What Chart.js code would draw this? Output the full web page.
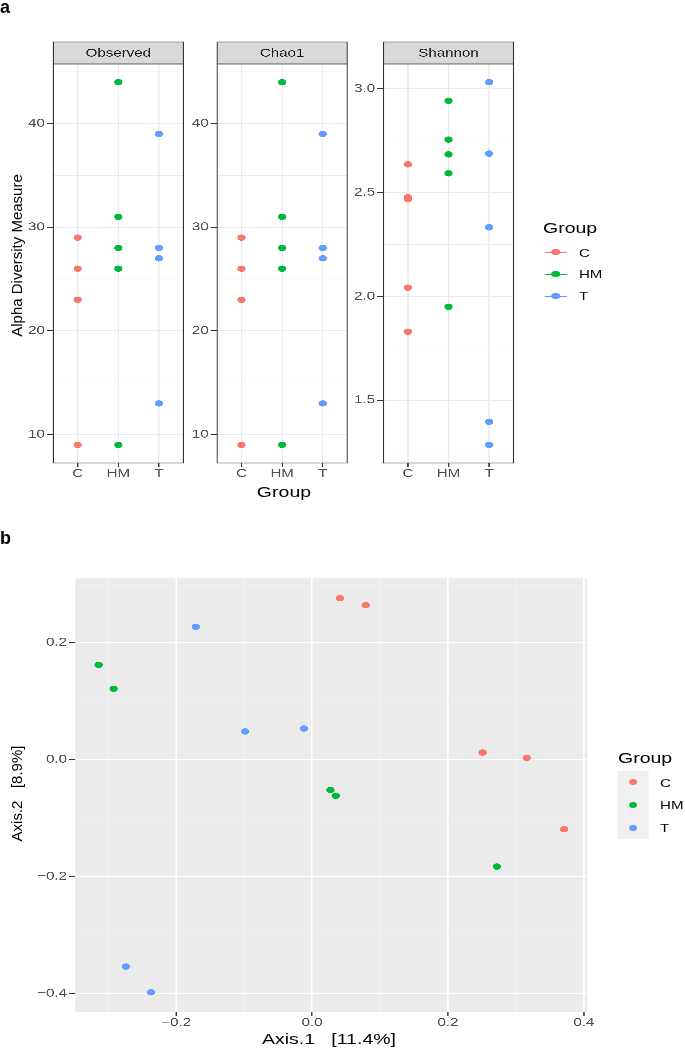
<!DOCTYPE html>
<html>
<head>
<meta charset="utf-8">
<script src="https://cdn.jsdelivr.net/npm/chart.js@4.4.1/dist/chart.umd.min.js"></script>
<style>
  html, body { margin: 0; padding: 0; background: #fff; }
  body { width: 685px; height: 1051px; position: relative; overflow: hidden;
         font-family: "Liberation Sans", Arial, Helvetica, sans-serif; }
  /* the original figure is stretched horizontally, so the whole stage is too */
  #stage { position: absolute; left: 0; top: 0; width: 527px; height: 1051px;
           transform: scaleX(1.3); transform-origin: 0 0; }
  canvas { position: absolute; }
  .t { position: absolute; white-space: pre; }
</style>
</head>
<body>
<div id="stage"></div>
<script>
// ---- data ----
const groups = ['C', 'HM', 'T'];
const groupColors = ['#F8766D', '#00BA38', '#619CFF'];

const observedC = [29, 26, 23, 9];
const observedHM = [44, 31, 28, 26, 9];
const observedT = [39, 28, 27, 13];

const chao1C = [29, 26, 23, 9];
const chao1HM = [44, 31, 28, 26, 9];
const chao1T = [39, 28, 27, 13];

const shannonC = [2.636, 2.478, 2.468, 2.042, 1.830];
const shannonHM = [2.942, 2.755, 2.684, 2.593, 1.950];
const shannonT = [3.032, 2.688, 2.333, 1.396, 1.285];

const countTicks = [10, 20, 30, 40];
const countMinor = [15, 25, 35, 45];
const shannonTicks = [1.5, 2.0, 2.5, 3.0];
const shannonMinor = [1.25, 1.75, 2.25, 2.75];

const pcoaCx = [0.041, 0.079, 0.251, 0.316, 0.371];
const pcoaCy = [0.276, 0.264, 0.012, 0.003, -0.119];
const pcoaHMx = [-0.314, -0.292, 0.027, 0.035, 0.272];
const pcoaHMy = [0.162, 0.121, -0.052, -0.062, -0.183];
const pcoaTx = [-0.171, -0.0985, -0.012, -0.274, -0.237];
const pcoaTy = [0.227, 0.048, 0.053, -0.354, -0.398];

const axis1Ticks = [-0.2, 0, 0.2, 0.4];
const axis1Minor = [-0.3, -0.1, 0.1, 0.3];
const axis2Ticks = [-0.4, -0.2, 0, 0.2];
const axis2Minor = [-0.3, -0.1, 0.1, 0.3];

// ---- layout helpers ----
const SX = 1.3;
const FONT = '"Liberation Sans", Arial, Helvetica, sans-serif';
const stage = document.getElementById('stage');
Chart.defaults.font.family = FONT;
Chart.defaults.color = '#4D4D4D';

const expand = (vals) => {
  const lo = Math.min(...vals), hi = Math.max(...vals), pad = (hi - lo) * 0.05;
  return [lo - pad, hi + pad];
};
const near = (list, v) => list.some(m => Math.abs(m - v) < 1e-9);
const minus = (s) => s.replace('-', '\u2212');

function addText(parent, str, o) {
  const d = document.createElement('div');
  d.className = 't';
  d.textContent = str;
  d.style.fontSize = o.size + 'px';
  d.style.lineHeight = o.size + 'px';
  d.style.color = o.color || '#000';
  if (o.bold) d.style.fontWeight = 'bold';
  if (o.center) {
    d.style.width = '300px';
    d.style.left = (o.x - 150) + 'px';
    d.style.textAlign = 'center';
  } else {
    d.style.left = o.x + 'px';
  }
  d.style.top = (o.y - o.size / 2) + 'px';
  if (o.rotate) d.style.transform = 'rotate(-90deg)';
  parent.appendChild(d);
}

function addBox(parent, x, y, w, h, color, round) {
  const d = document.createElement('div');
  d.style.position = 'absolute';
  d.style.left = x + 'px';
  d.style.top = y + 'px';
  d.style.width = w + 'px';
  d.style.height = h + 'px';
  d.style.background = color;
  if (round) d.style.borderRadius = '50%';
  parent.appendChild(d);
}

// build a chart whose chart area lands exactly on `area` (stage coords)
function placeChart(area, axW, axH, padT, padR, config) {
  const cv = document.createElement('canvas');
  const W = Math.ceil(axW + (area.r - area.l) + padR);
  const H = Math.ceil(padT + (area.b - area.t) + axH);
  cv.width = W;
  cv.height = H;
  cv.style.left = (area.l - axW) + 'px';
  cv.style.top = (area.t - padT) + 'px';
  stage.appendChild(cv);
  const realPadR = W - axW - (area.r - area.l);
  const realAxH = H - padT - (area.b - area.t);
  const o = config.options;
  o.responsive = false;
  o.animation = false;
  o.devicePixelRatio = 3;
  o.layout = { padding: { top: padT, right: realPadR, bottom: 0, left: 0 }, autoPadding: false };
  o.scales.x.afterFit = s => { s.height = realAxH; };
  o.scales.y.afterFit = s => { s.width = axW; };
  return new Chart(cv, config);
}

// panel border + grey strip on top (theme_bw facets)
const facetFrame = {
  id: 'facetFrame',
  afterDraw(chart, args, opts) {
    const { ctx, chartArea: a } = chart;
    const w = a.right - a.left;
    ctx.save();
    ctx.fillStyle = '#D9D9D9';
    ctx.fillRect(a.left, a.top - 22, w, 22);
    ctx.strokeStyle = '#333333';
    ctx.lineWidth = 0.8;
    ctx.strokeRect(a.left, a.top - 22, w, 22);
    ctx.strokeRect(a.left, a.top, w, a.bottom - a.top);
    ctx.fillStyle = '#1A1A1A';
    ctx.font = '11.6px ' + FONT;
    ctx.textAlign = 'center';
    ctx.textBaseline = 'middle';
    ctx.fillText(opts.title, (a.left + a.right) / 2, a.top - 10.5);
    ctx.restore();
  }
};

// grey panel background (theme_gray)
const panelBg = {
  id: 'panelBg',
  beforeDraw(chart) {
    const { ctx, chartArea: a } = chart;
    ctx.save();
    ctx.fillStyle = '#EBEBEB';
    ctx.fillRect(a.left, a.top, a.right - a.left, a.bottom - a.top);
    ctx.restore();
  }
};

const pointOpts = (gi) => ({
  backgroundColor: groupColors[gi],
  borderColor: groupColors[gi],
  pointRadius: 3.2,
  pointHoverRadius: 3.2,
  pointBorderWidth: 0
});

// ---- panel a: alpha diversity facets ----
const facets = [
  { title: 'Observed', series: [observedC, observedHM, observedT], major: countTicks, minor: countMinor, fmt: v => String(v), left: 53 },
  { title: 'Chao1', series: [chao1C, chao1HM, chao1T], major: countTicks, minor: countMinor, fmt: v => String(v), left: 217 },
  { title: 'Shannon', series: [shannonC, shannonHM, shannonT], major: shannonTicks, minor: shannonMinor, fmt: v => v.toFixed(1), left: 384 }
];

facets.forEach(f => {
  const [lo, hi] = expand(f.series.flat());
  const area = { l: f.left / SX, r: f.left / SX + 100, t: 64, b: 463 };
  placeChart(area, 28, 30, 24, 4, {
    type: 'scatter',
    data: {
      datasets: f.series.map((vals, gi) => Object.assign({
        label: groups[gi],
        data: vals.map(v => ({ x: gi + 1, y: v }))
      }, pointOpts(gi)))
    },
    options: {
      plugins: { legend: { display: false }, tooltip: { enabled: false }, facetFrame: { title: f.title } },
      scales: {
        x: {
          type: 'linear', min: 0.4, max: 3.6,
          afterBuildTicks: s => { s.ticks = [1, 2, 3].map(v => ({ value: v })); },
          ticks: { callback: v => groups[v - 1], padding: 0, font: { size: 11.6 }, maxRotation: 0, autoSkip: false },
          grid: { color: '#EBEBEB', lineWidth: 1, tickLength: 4, tickColor: '#333333', tickWidth: 1 },
          border: { display: false }
        },
        y: {
          type: 'linear', min: lo, max: hi,
          afterBuildTicks: s => {
            s.ticks = f.major.concat(f.minor).sort((a, b) => a - b)
              .filter(v => v >= lo && v <= hi).map(v => ({ value: v }));
          },
          ticks: { callback: v => near(f.major, v) ? f.fmt(v) : '', padding: 1.5, font: { size: 11.6 }, autoSkip: false },
          grid: {
            color: '#EBEBEB',
            lineWidth: c => near(f.major, c.tick.value) ? 1 : 0.5,
            tickLength: 5,
            tickColor: c => near(f.major, c.tick.value) ? '#333333' : 'rgba(0,0,0,0)',
            tickWidth: 1
          },
          border: { display: false }
        }
      }
    },
    plugins: [facetFrame]
  });
});

// ---- panel b: PCoA ----
const pcoaX = [pcoaCx, pcoaHMx, pcoaTx];
const pcoaY = [pcoaCy, pcoaHMy, pcoaTy];
const [xLo, xHi] = expand(pcoaX.flat());
const [yLo, yHi] = expand(pcoaY.flat());

placeChart({ l: 75 / SX, r: 587 / SX, t: 576, b: 1012 }, 42, 22, 6, 16, {
  type: 'scatter',
  data: {
    datasets: pcoaX.map((xs, gi) => Object.assign({
      label: groups[gi],
      data: xs.map((x, i) => ({ x: x, y: pcoaY[gi][i] }))
    }, pointOpts(gi)))
  },
  options: {
    plugins: { legend: { display: false }, tooltip: { enabled: false } },
    scales: {
      x: {
        type: 'linear', min: xLo, max: xHi,
        afterBuildTicks: s => {
          s.ticks = axis1Ticks.concat(axis1Minor).sort((a, b) => a - b).map(v => ({ value: v }));
        },
        ticks: { callback: v => near(axis1Ticks, v) ? minus(v.toFixed(1)) : '', padding: 0, font: { size: 11.6 }, maxRotation: 0, autoSkip: false },
        grid: {
          color: '#FFFFFF',
          lineWidth: c => near(axis1Ticks, c.tick.value) ? 1.1 : 0.55,
          tickLength: 4,
          tickColor: c => near(axis1Ticks, c.tick.value) ? '#333333' : 'rgba(0,0,0,0)',
          tickWidth: 1
        },
        border: { display: false }
      },
      y: {
        type: 'linear', min: yLo, max: yHi,
        afterBuildTicks: s => {
          s.ticks = axis2Ticks.concat(axis2Minor).sort((a, b) => a - b).map(v => ({ value: v }));
        },
        ticks: { callback: v => near(axis2Ticks, v) ? minus(v.toFixed(1)) : '', padding: 1.5, font: { size: 11.6 }, autoSkip: false },
        grid: {
          color: '#FFFFFF',
          lineWidth: c => near(axis2Ticks, c.tick.value) ? 1.1 : 0.55,
          tickLength: 5,
          tickColor: c => near(axis2Ticks, c.tick.value) ? '#333333' : 'rgba(0,0,0,0)',
          tickWidth: 1
        },
        border: { display: false }
      }
    }
  },
  plugins: [panelBg]
});

// ---- titles and legends (horizontal text lives on the stretched stage) ----
addText(stage, 'Group', { x: 284 / SX, y: 491, size: 15, center: true });
addText(stage, 'Axis.1   [11.4%]', { x: 329 / SX, y: 1038, size: 15, center: true });

// legend a: line + point keys on white
addText(stage, 'Group', { x: 543 / SX, y: 227.5, size: 15 });
[252.3, 274, 296].forEach((y, gi) => {
  addBox(stage, 545 / SX, y - 0.5, 22 / SX, 1, groupColors[gi]);
  addBox(stage, 556 / SX - 3.2, y - 3.2, 6.4, 6.4, groupColors[gi], true);
  addText(stage, groups[gi], { x: 579 / SX, y: y, size: 11.6 });
});

// legend b: point keys on grey
addText(stage, 'Group', { x: 618 / SX, y: 757, size: 15 });
addBox(stage, 617 / SX, 771, 32 / SX, 68, '#F0F0F0');
[782.3, 805, 827.7].forEach((y, gi) => {
  addBox(stage, 633 / SX - 3.2, y - 3.2, 6.4, 6.4, groupColors[gi], true);
  addText(stage, groups[gi], { x: 660 / SX, y: y, size: 11.6 });
});

// ---- unstretched text: panel letters and rotated axis titles ----
const body = document.body;
addText(body, 'a', { x: 0, y: 6.5, size: 18, bold: true });
addText(body, 'b', { x: 0, y: 538, size: 18, bold: true });
addText(body, 'Alpha Diversity Measure', { x: 15.7, y: 255.5, size: 15, center: true, rotate: true });
addText(body, 'Axis.2   [8.9%]', { x: 16.3, y: 793, size: 15, center: true, rotate: true });
</script>
</body>
</html>
